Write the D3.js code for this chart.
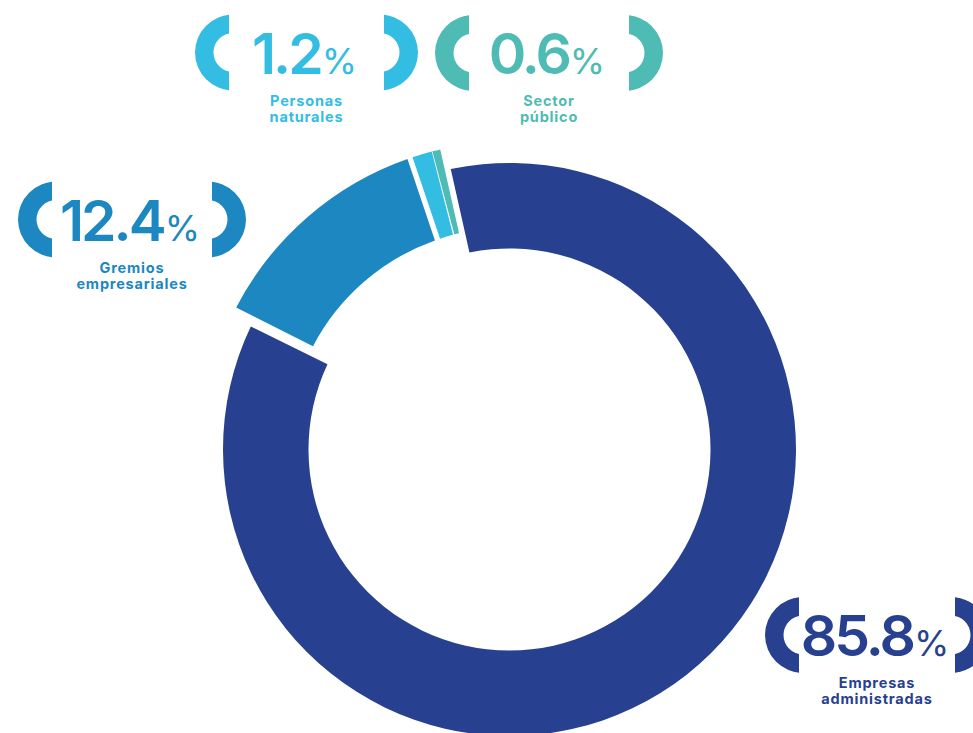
<!DOCTYPE html>
<html>
<head>
<meta charset="utf-8">
<script src="https://cdnjs.cloudflare.com/ajax/libs/d3/7.8.5/d3.min.js"></script>
<style>
	html, body { margin: 0; padding: 0; background: #fff; }
	svg { display: block; }
	.num { font-family: Inter, "Noto Sans", sans-serif; font-weight: 600; }
	.cap { font-family: Inter, "Noto Sans", sans-serif; font-weight: 700; }
</style>
</head>
<body>
<div id="chart"></div>
<script>
var categories = ["Empresas administradas", "Gremios empresariales", "Personas naturales", "Sector público"];
var values = [85.8, 12.4, 1.2, 0.6];
var labelLines = [["Empresas", "administradas"], ["Gremios", "empresariales"], ["Personas", "naturales"], ["Sector", "público"]];

function donutChart() {
	var chart = {},
			width = 973,
			height = 733,
			center = {x: 509.5, y: 449.5},
			color = d3.scaleOrdinal().range(["#27408f", "#1c87c1", "#33bde2", "#4ebbb4"]),
			// main ring and the pulled-out ring of the small slices
			rings = [{inner: 201, outer: 286.5}, {inner: 222, outer: 308}, {inner: 222, outer: 308}, {inner: 222, outer: 308}],
			gapAfter = [10, 5.4, 1, 6],
			padRadius = 300,
			startAngle = -12.4 * Math.PI / 180,
			labelPos = [
				{x: 877, y: 635, half: 112},
				{x: 132, y: 219.5, half: 114},
				{x: 306.5, y: 52.5, half: 111.5},
				{x: 549, y: 53, half: 114}
			],
			bracket = {outer: 38, inner: 19.5, cut: 4};

	chart.render = function() {
		var svg = d3.select("#chart").append("svg")
				.attr("width", width)
				.attr("height", height);

		color.domain(categories);

		var pie = d3.pie()
				.sort(null)
				.value(function(d) { return d.value; })
				.startAngle(startAngle)
				.endAngle(startAngle + 2 * Math.PI);

		var data = categories.map(function(c, i) { return {name: c, value: values[i], i: i}; });
		var n = data.length;

		var slices = pie(data).map(function(d, i) {
			var before = gapAfter[(i - 1 + n) % n] / 2,
					after = gapAfter[i] / 2,
					rMid = (rings[i].inner + rings[i].outer) / 2,
					shift = (before - after) / 2 / rMid;
			return {
				data: d.data,
				startAngle: d.startAngle + shift,
				endAngle: d.endAngle + shift,
				padAngle: (before + after) / padRadius
			};
		});

		var arc = d3.arc()
				.innerRadius(function(d) { return rings[d.data.i].inner; })
				.outerRadius(function(d) { return rings[d.data.i].outer; })
				.padRadius(padRadius);

		svg.append("g")
				.attr("class", "donut")
				.attr("transform", "translate(" + center.x + "," + center.y + ")")
			.selectAll("path")
			.data(slices)
			.enter().append("path")
				.attr("d", arc)
				.style("fill", function(d) { return color(d.data.name); });

		// Clip the rings into bracket shapes (coordinates relative to the ring center)
		var defs = svg.append("defs");
		defs.append("clipPath").attr("id", "clip-left")
			.append("rect")
				.attr("x", -bracket.outer - 2).attr("y", -bracket.outer - 2)
				.attr("width", bracket.outer - bracket.cut + 2).attr("height", bracket.outer * 2 + 4);
		defs.append("clipPath").attr("id", "clip-right")
			.append("rect")
				.attr("x", bracket.cut).attr("y", -bracket.outer - 2)
				.attr("width", bracket.outer + 2).attr("height", bracket.outer * 2 + 4);

		var fmt = d3.format(".1f");
		var ring = d3.arc().innerRadius(bracket.inner).outerRadius(bracket.outer).startAngle(0).endAngle(2 * Math.PI);

		var label = svg.append("g").attr("class", "labels")
			.selectAll(".label")
			.data(data)
			.enter().append("g")
				.attr("class", "label")
				.attr("transform", function(d) { var p = labelPos[d.i]; return "translate(" + p.x + "," + p.y + ")"; })
				.style("fill", function(d) { return color(d.name); });

		label.each(function(d) {
			var g = d3.select(this),
					half = labelPos[d.i].half;

			g.append("path")
					.attr("transform", "translate(" + (-half + bracket.outer) + ",0)")
					.attr("d", ring())
					.attr("clip-path", "url(#clip-left)");

			g.append("path")
					.attr("transform", "translate(" + (half - bracket.outer) + ",0)")
					.attr("d", ring())
					.attr("clip-path", "url(#clip-right)");

			var num = g.append("text")
					.attr("class", "num")
					.attr("x", -2)
					.attr("y", 21)
					.attr("text-anchor", "middle");
			num.append("tspan")
					.style("font-size", "57px")
					.style("letter-spacing", "-3px")
					.text(fmt(d.value));
			num.append("tspan")
					.attr("dx", 1)
					.style("font-size", "36px")
					.style("font-weight", 400)
					.text("%");

			g.selectAll(".cap")
				.data(labelLines[d.i])
				.enter().append("text")
					.attr("class", "cap")
					.attr("text-anchor", "middle")
					.attr("x", 0)
					.attr("y", function(t, j) { return 53 + j * 16; })
					.style("font-size", "14.5px")
					.style("letter-spacing", "0.8px")
					.text(function(t) { return t; });
		});
	};

	return chart;
}

donutChart().render();
</script>
</body>
</html>
